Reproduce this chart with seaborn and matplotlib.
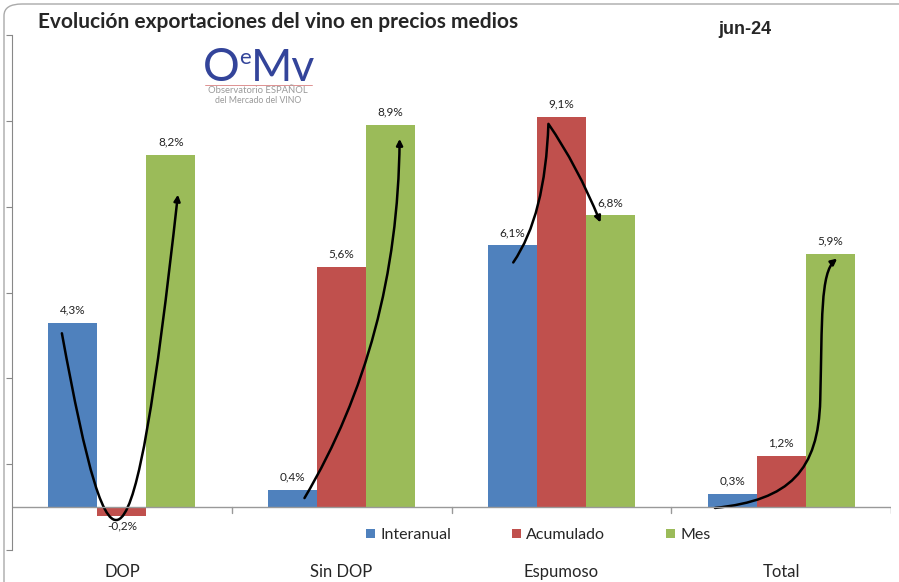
import numpy as np
import pandas as pd
import seaborn as sns
import matplotlib.pyplot as plt
from matplotlib.path import Path
from matplotlib.patches import FancyArrowPatch, FancyBboxPatch

categories = ['DOP', 'Sin DOP', 'Espumoso', 'Total']
interanual = [4.3, 0.4, 6.1, 0.3]
acumulado = [-0.2, 5.6, 9.1, 1.2]
mes = [8.2, 8.9, 6.8, 5.9]
series = ['Interanual', 'Acumulado', 'Mes']
colors = ['#4F81BD', '#C0504D', '#9BBB59']

df = pd.DataFrame({
    'cat': categories * 3,
    'serie': np.repeat(series, len(categories)),
    'valor': interanual + acumulado + mes,
})

sns.set_style('white')
plt.rcParams['font.family'] = ['Lato', 'DejaVu Sans']

fig = plt.figure(figsize=(8.99, 5.82), dpi=100)
ax = fig.add_axes([12 / 899, 1 - 550 / 582, 879 / 899, 515 / 582])

sns.barplot(data=df, x='cat', y='valor', hue='serie', palette=colors,
            width=0.67, gap=0, ax=ax, legend=True, saturation=1, linewidth=0)

ax.set_xlim(-0.5, 3.5)
ax.set_ylim(-1, 11)
ax.set_xlabel('')
ax.set_ylabel('')

# etiquetas de valor
for cont in ax.containers:
    for bar in cont:
        v = bar.get_height()
        x = bar.get_x() + bar.get_width() / 2
        txt = f'{v:.1f}%'.replace('.', ',')
        if v >= 0:
            ax.text(x, v + 0.17, txt, ha='center', va='bottom', fontsize=8.5, color='#222222')
        else:
            ax.text(x, v - 0.12, txt, ha='center', va='top', fontsize=8.5, color='#222222')

# ejes
for s in ['top', 'right', 'bottom']:
    ax.spines[s].set_visible(False)
ax.spines['left'].set_color('#888888')
ax.set_yticks(np.arange(-1, 12, 2))
ax.set_yticklabels([])
ax.tick_params(axis='y', direction='out', length=4, color='#888888', left=True)
ax.axhline(0, color='#999999', lw=1)
for b in [0.5, 1.5, 2.5, 3.5]:
    ax.plot([b, b], [0, -0.13], color='#999999', lw=1)
ax.set_xticks(range(4))
ax.set_xticklabels(categories, fontsize=12)
ax.tick_params(axis='x', length=0, pad=10)

# leyenda
handles, labels = ax.get_legend_handles_labels()
ax.legend(handles, labels, loc='center left', bbox_to_anchor=((366 - 12) / 879, 0.029), ncol=3,
          frameon=False, fontsize=11.5, handlelength=0.55, handleheight=0.55,
          handletextpad=0.35, columnspacing=3.8, borderpad=0, borderaxespad=0)

# flechas curvas
def arrow(verts, codes):
    p = FancyArrowPatch(path=Path(verts, codes), arrowstyle='-|>', mutation_scale=9,
                        color='black', lw=1.8, shrinkA=0, shrinkB=0)
    ax.add_patch(p)

M, Q3, C4 = Path.MOVETO, Path.CURVE3, Path.CURVE4
arrow([(-0.273, 4.05), (-0.05, -2.2), (0.05, -2.2), (0.255, 7.28)], [M, C4, C4, C4])
arrow([(0.831, 0.21), (1.255, 3.88), (1.264, 8.58)], [M, Q3, Q3])
arrow([(1.781, 5.70), (1.927, 6.79), (1.941, 8.93), (2.073, 7.95), (2.178, 6.63)],
      [M, Q3, Q3, Q3, Q3])
arrow([(2.699, -0.02), (3.041, 0.16), (3.169, 0.86), (3.178, 2.49),
       (3.187, 4.35), (3.178, 5.47), (3.255, 5.79)], [M, C4, C4, C4, C4, C4, C4])

# titulos
fig.text(38 / 899, 1 - 22 / 582, 'Evolución exportaciones del vino en precios medios',
         fontsize=15, fontweight='bold', va='center', ha='left')
fig.text(718 / 899, 1 - 30 / 582, 'jun-24', fontsize=13, fontweight='bold',
         va='center', ha='left', family=['Liberation Sans'])

# logo
blue = '#33449A'
fig.text(203 / 899, 1 - 81 / 582, 'O', fontsize=33, color=blue, va='baseline')
fig.text(239 / 899, 1 - 64 / 582, 'e', fontsize=16, color=blue, va='baseline')
fig.text(251 / 899, 1 - 81 / 582, 'Mv', fontsize=32, color=blue, va='baseline')
fig.add_artist(plt.Line2D([205 / 899, 312 / 899], [1 - 85 / 582, 1 - 85 / 582], color='#D98080', lw=0.6))
fig.text(258 / 899, 1 - 90.5 / 582, 'Observatorio ESPAÑOL', fontsize=6.8, color='#9A9A9A', ha='center', va='center')
fig.text(258 / 899, 1 - 100.5 / 582, 'del Mercado del VINO', fontsize=6.3, color='#9A9A9A', ha='center', va='center')

# borde del grafico
fig.add_artist(FancyBboxPatch((4 / 899, -0.02), 1.2, 1 - 4 / 582 + 0.02,
                              boxstyle='round,pad=0,rounding_size=0.02',
                              transform=fig.transFigure, fill=False, ec='#AAAAAA', lw=1))

fig.savefig('out.png', dpi=100)
